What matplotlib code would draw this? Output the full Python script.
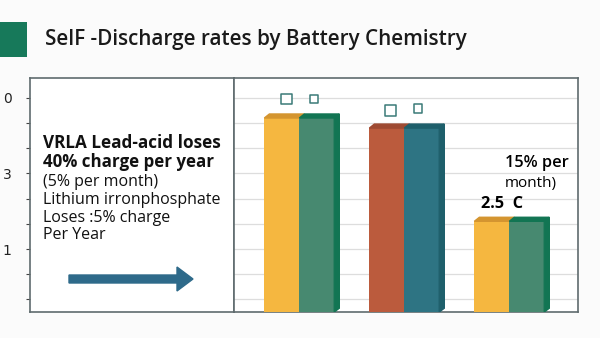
import matplotlib.pyplot as plt
from matplotlib.patches import Polygon, Rectangle, FancyArrow

# data
groups = [0, 1, 2]
series_a = [7.7, 7.3, 3.6]
series_b = [7.7, 7.3, 3.6]
colors_a = ["#F5B740", "#BB5B3D", "#F5B740"]
colors_b = ["#478970", "#2E7483", "#478970"]
tops_a = ["#D49530", "#9E4A32", "#D49530"]
sides_b = ["#127553", "#1E5F6B", "#127553"]
grid_vals = [0.5, 1.5, 2.5, 3.5, 4.5, 5.5, 6.5, 7.5, 8.5]
left_labels = {8.5: "0", 5.5: "3", 2.5: "1"}
marker_x = [-0.12, 0.14, 0.87, 1.13]
marker_y = [8.45, 8.45, 8.0, 8.08]
marker_size = [60, 38, 60, 38]

W, H = 600, 338
fig = plt.figure(figsize=(6, 3.38), dpi=100)
fig.patch.set_facecolor("#FBFBFB")
font = "Open Sans"

def fx(px):
    return px / W

def fy(py):
    return 1 - py / H

# title block
fig.patches.append(Rectangle((0, fy(57)), fx(27), (57 - 22) / H, transform=fig.transFigure,
                             facecolor="#17795A", edgecolor="none"))
fig.text(fx(45), fy(40), "SelF -Discharge rates by Battery Chemistry", fontsize=14.9,
         family=font, fontweight="semibold", va="center", ha="left", color="#1A1A1A")

box_l, box_r, box_t, box_b, div = 29.5, 578, 77.7, 312, 233.5
ymax = 9.3

# left panel
axl = fig.add_axes([fx(box_l), fy(box_b), fx(div - box_l), (box_b - box_t) / H])
axl.set_xlim(0, 1)
axl.set_ylim(0, ymax)
axl.set_facecolor("white")
axl.set_xticks([])
axl.set_yticks(grid_vals)
axl.set_yticklabels([left_labels.get(v, "") for v in grid_vals], fontsize=10, color="#222222")
axl.tick_params(axis="y", length=3, width=0.8, color="#444444", pad=10)
for s in axl.spines.values():
    s.set_color("#5F6B6E")
    s.set_linewidth(1.2)

lines = [("VRLA Lead-acid loses", "bold", 12.3, 143),
         ("40% charge per year", "bold", 12.2, 162),
         ("(5% per month)", "normal", 11.5, 182),
         ("Lithium irronphosphate", "normal", 11.5, 200),
         ("Loses :5% charge", "normal", 11.5, 218),
         ("Per Year", "normal", 11.5, 235)]
for txt, wt, sz, py in lines:
    fig.text(fx(43), fy(py), txt, fontsize=sz, fontweight=wt, family=font,
             va="center", ha="left", color="#111111")

arrow = FancyArrow(fx(69), fy(279), fx(193 - 69), 0, width=8 / H, head_width=24 / H,
                   head_length=fx(16), length_includes_head=True, transform=fig.transFigure,
                   color="#2E6A8A")
fig.patches.append(arrow)

# right panel
axr = fig.add_axes([fx(div), fy(box_b), fx(box_r - div), (box_b - box_t) / H], sharey=axl)
xmin = -(299.3 - div) / 105
axr.set_xlim(xmin, xmin + (box_r - div) / 105)
axr.set_facecolor("white")
for v in grid_vals:
    axr.axhline(v, color="#DDDDDD", linewidth=0.9, zorder=0)
axr.tick_params(left=False, labelleft=False, bottom=False, labelbottom=False)
for s in axr.spines.values():
    s.set_color("#5F6B6E")
    s.set_linewidth(1.2)

bw = 0.333
dx, dy = 0.048, 0.16
for g, a, b, ca, cb, ta, sb in zip(groups, series_a, series_b, colors_a, colors_b, tops_a, sides_b):
    axr.bar(g - bw / 2, a, width=bw, color=ca, zorder=3)
    axr.bar(g + bw / 2, b, width=bw, color=cb, zorder=3)
    x0, x1, x2 = g - bw, g, g + bw
    axr.add_patch(Polygon([(x0, a), (x0 + dx, a + dy), (x1 + dx, a + dy), (x1, a)],
                          closed=True, color=ta, zorder=3))
    axr.add_patch(Polygon([(x1, b), (x1 + dx, b + dy), (x2 + dx, b + dy), (x2, b)],
                          closed=True, color=sb, zorder=3))
    axr.add_patch(Polygon([(x2, 0), (x2, b), (x2 + dx, b + dy), (x2 + dx, 0.15)],
                          closed=True, color=sb, zorder=3))

axr.scatter(marker_x, marker_y, s=marker_size, marker="s", facecolor="white",
            edgecolor="#3B7A78", linewidth=1.1, zorder=4)

axr.text(1.96, 5.9, "15% per", fontsize=11.8, fontweight="semibold", family=font,
         ha="left", va="center")
axr.text(1.96, 5.1, "month)", fontsize=11, family=font, ha="left", va="center")
axr.text(1.73, 4.3, "2.5  C", fontsize=11.8, fontweight="bold", family=font,
         ha="left", va="center")

fig.savefig("out.png", dpi=100, facecolor=fig.get_facecolor())
